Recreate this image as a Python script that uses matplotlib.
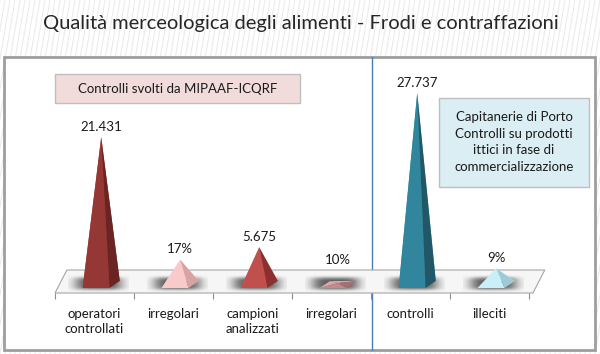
import matplotlib
matplotlib.use("Agg")
import matplotlib.pyplot as plt
import numpy as np
from matplotlib.patches import Polygon, Rectangle

plt.rcParams['font.family'] = ['Lato', 'DejaVu Sans']

# data
categories = ["operatori\ncontrollati", "irregolari", "campioni\nanalizzati",
              "irregolari", "controlli", "illeciti"]
values = [21431, 3900, 5675, 570, 27737, 2650]      # plotted heights
value_labels = ["21.431", "17%", "5.675", "10%", "27.737", "9%"]
front_colors = ["#953735", "#F8CACA", "#C0504D", "#C28A8A", "#31859C", "#C9EFF8"]
side_colors = ["#6A2422", "#D9A3A4", "#8C2F2D", "#A96F6F", "#205867", "#9DCAD6"]
back_colors = ["#A94442", "#FBDADA", "#D06B68", "#D9A8A8", "#4A9BB0", "#DDF6FB"]

title = "Qualità merceologica degli alimenti - Frodi e contraffazioni"
box_left = "Controlli svolti da MIPAAF-ICQRF"
box_right = "Capitanerie di Porto\nControlli su prodotti\nittici in fase di\ncommercializzazione"

W, H = 600, 354
fig = plt.figure(figsize=(W / 100, H / 100), dpi=100)
fig.patch.set_facecolor("white")

# background / slide decoration in pixel coords
bg = fig.add_axes([0, 0, 1, 1])
bg.set_xlim(0, W)
bg.set_ylim(H, 0)
bg.axis("off")
for x0 in np.arange(-200, W + 40, 5):
    bg.plot([x0, x0 + 60], [H, 0], color="#E9E9E9", lw=0.7, zorder=0)
bg.add_patch(Rectangle((4, 57), 591, 293, facecolor="white",
                       edgecolor="#9E9E9E", lw=2, zorder=1))
bg.plot([372, 372], [57, 350], color="#4A7EBB", lw=1, zorder=2)
bg.text(301, 24, title, ha="center", va="center", fontsize=14.5,
        color="#262626", zorder=3)

bg.add_patch(Rectangle((55, 74), 245, 29, facecolor="#F2DCDB",
                       edgecolor="#BFBFBF", lw=1, zorder=2))
bg.text(177.5, 89, box_left, ha="center", va="center", fontsize=9.5,
        color="#1A1A1A", zorder=3)
bg.add_patch(Rectangle((439, 98), 150, 89, facecolor="#DBEEF4",
                       edgecolor="#BFBFBF", lw=1, zorder=2))
bg.text(514, 142, box_right, ha="center", va="center", fontsize=9.5,
        linespacing=1.45, color="#1A1A1A", zorder=3)

# chart axes: category x, value y
ax = fig.add_axes([55 / W, (H - 293) / H, 474 / W, (293 - 75) / H])
ax.patch.set_visible(False)
ymin, ymax = -858, 30316
ax.set_xlim(-0.5, 5.5)
ax.set_ylim(ymin, ymax)
for s in ax.spines.values():
    s.set_visible(False)
ax.set_yticks([])
ax.set_xticks(range(len(categories)))
ax.set_xticklabels(categories, fontsize=9.5, color="#1A1A1A", linespacing=1.3)
ax.tick_params(axis="x", which="major", length=0, pad=11)
ax.set_xticks(np.arange(-0.5, len(categories), 1), minor=True)
ax.tick_params(axis="x", which="minor", length=4, width=0.8, color="#8C8C8C")

# floor
floor_top = 2431
ax.add_patch(Polygon([(-0.5, ymin), (5.55, ymin), (5.70, floor_top), (-0.35, floor_top)],
                     closed=True, facecolor="#F6F6F6", edgecolor="#A6A6A6",
                     lw=0.8, zorder=1, clip_on=False))

# pyramid geometry (data units)
base_y = -143
depth_dx = 0.13
depth_dy = 1000
gx = np.linspace(-1, 1, 60)
gy = np.linspace(-1, 1, 30)
GX, GY = np.meshgrid(gx, gy)
blob = np.exp(-(np.abs(GX) ** 4) * 2.5) * np.exp(-(np.abs(GY) ** 4) * 3)

for i, v in enumerate(values):
    FL = (i - 0.15, base_y)
    FR = (i + 0.19, base_y)
    BR = (FR[0] + depth_dx, base_y + depth_dy)
    BL = (FL[0] + depth_dx, base_y + depth_dy)
    apex = (i + 0.02 + depth_dx / 2, v)

    # soft shadow on the floor
    rgba = np.zeros(blob.shape + (4,))
    rgba[..., :3] = 0.25
    rgba[..., 3] = blob * 0.85
    ax.imshow(rgba, extent=(i - 0.33, i + 0.43, -650, 1700), aspect="auto",
              origin="lower", zorder=2, interpolation="bilinear")

    ax.add_patch(Polygon([BL, BR, apex], closed=True, facecolor=back_colors[i],
                         edgecolor="none", zorder=3))
    ax.add_patch(Polygon([BL, FL, apex], closed=True, facecolor=back_colors[i],
                         edgecolor="none", zorder=3))
    ax.add_patch(Polygon([FL, FR, apex], closed=True, facecolor=front_colors[i],
                         edgecolor="none", zorder=4))
    ax.add_patch(Polygon([FR, BR, apex], closed=True, facecolor=side_colors[i],
                         edgecolor="none", zorder=4))

    ax.annotate(value_labels[i], (apex[0], max(v, 2400)), xytext=(0, 7.5),
                textcoords="offset points", ha="center", va="center",
                fontsize=9.5, color="#1A1A1A", zorder=5)

ax.set_xlim(-0.5, 5.5)
ax.set_ylim(ymin, ymax)

fig.savefig("out.png", dpi=100, facecolor=fig.get_facecolor())
